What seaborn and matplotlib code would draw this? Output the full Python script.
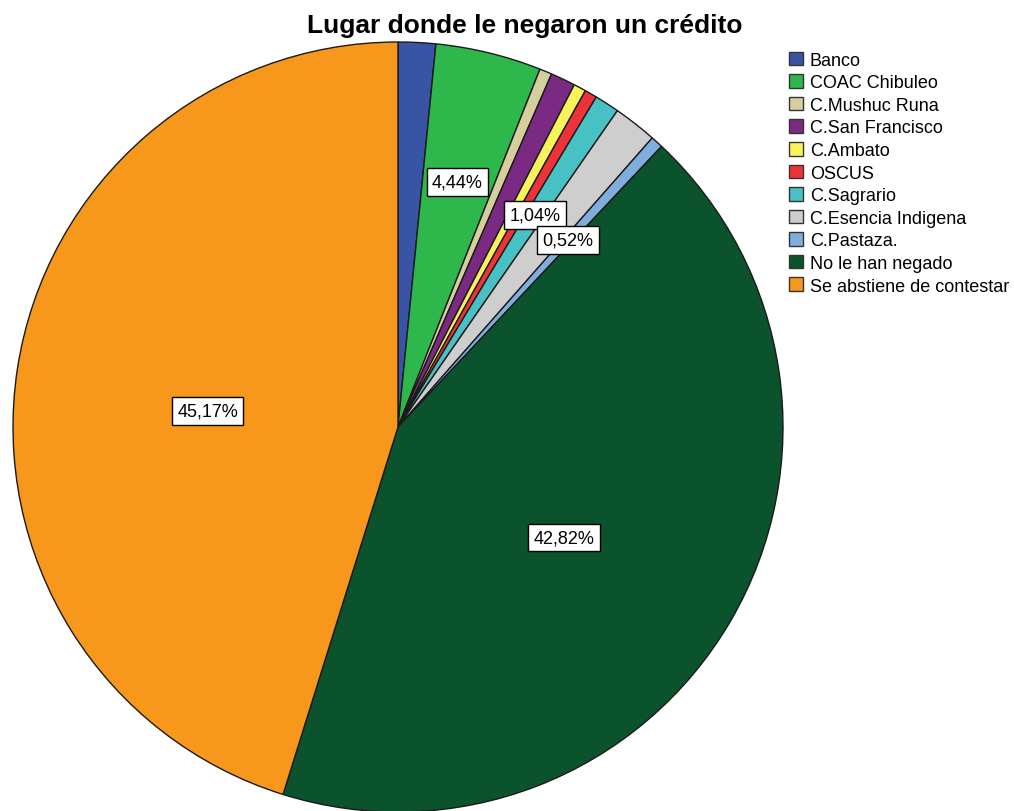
import numpy as np
import matplotlib
matplotlib.use("Agg")
import matplotlib.pyplot as plt
import seaborn as sns

# Percent of respondents by where a credit was refused
categories = ["Banco", "COAC Chibuleo", "C.Mushuc Runa", "C.San Francisco",
              "C.Ambato", "OSCUS", "C.Sagrario", "C.Esencia Indigena",
              "C.Pastaza.", "No le han negado", "Se abstiene de contestar"]
percents = [1.57, 4.44, 0.52, 1.04, 0.52, 0.52, 1.04, 1.83, 0.52, 42.82, 45.17]
# slices that carry a value label
labelled = ["COAC Chibuleo", "C.Sagrario", "C.Pastaza.", "No le han negado",
            "Se abstiene de contestar"]

colors = ["#3A54A5", "#2EB84B", "#D5CF9D", "#7B2A83", "#F8F35B", "#EE3239",
          "#47C1C4", "#CECECE", "#7FAEDC", "#0B532C", "#F7981D"]
palette = sns.color_palette(colors)

sns.set_theme(style="white")
plt.rcParams["font.family"] = ["Liberation Sans", "DejaVu Sans"]
plt.rcParams["text.color"] = "black"

W, H = 1014, 812
fig = plt.figure(figsize=(W / 100, H / 100), dpi=100)
fig.patch.set_facecolor("white")

cx, cy, R = 398, 428, 385
ax = fig.add_axes([(cx - R) / W, (H - cy - R) / H, 2 * R / W, 2 * R / H])
wedges, _ = ax.pie(percents, colors=palette, startangle=90, counterclock=False,
                   radius=1.0,
                   wedgeprops=dict(edgecolor="#1a1a1a", linewidth=1.0))
ax.set_xlim(-1, 1)
ax.set_ylim(-1, 1)
ax.set_axis_off()

for w, name, p in zip(wedges, categories, percents):
    if name not in labelled:
        continue
    mid = np.deg2rad((w.theta1 + w.theta2) / 2)
    if p > 20:
        x, y = 0.5 * np.cos(mid), 0.5 * np.sin(mid) - 0.035
    else:
        x, y = 0.655 * np.cos(mid), 0.655 * np.sin(mid)
    txt = f"{p:.2f}%".replace(".", ",")
    ax.text(x, y, txt, ha="center", va="center", fontsize=13, color="black",
            bbox=dict(boxstyle="square,pad=0.3", facecolor="white",
                      edgecolor="black", linewidth=1.0))

fig.text(525 / W, 1 - 26 / H, "Lugar donde le negaron un crédito",
         ha="center", va="center", fontsize=19, fontweight="bold",
         color="black")

leg = fig.legend(wedges, categories, loc="upper left",
                 bbox_to_anchor=(776 / W, 1 - 40 / H), frameon=False,
                 fontsize=13, handlelength=0.78, handleheight=0.78,
                 handletextpad=0.39, labelspacing=0.305, borderpad=0.2)
for t in leg.get_texts():
    t.set_color("black")
for h in leg.legend_handles:
    h.set_edgecolor("#333333")
    h.set_linewidth(1.0)

fig.savefig("out.png", dpi=100, facecolor="white")
